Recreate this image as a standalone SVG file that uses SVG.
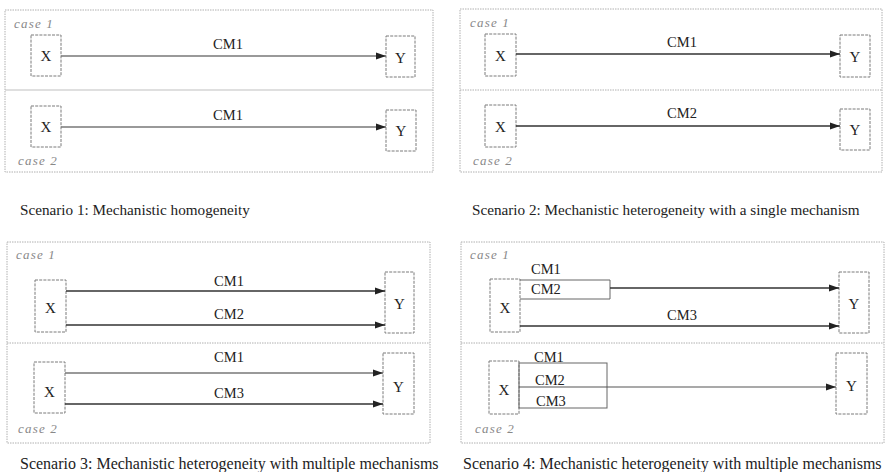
<svg xmlns="http://www.w3.org/2000/svg" width="886" height="472" viewBox="0 0 886 472">
<style>
text{font-family:"Liberation Serif","Times New Roman",Times,serif}
.panel{fill:none;stroke:#b0b0b0;stroke-width:1;stroke-dasharray:1.5 1}
.div{stroke:#b0b0b0;stroke-width:1;stroke-dasharray:1.5 1}
.div1{stroke:#c0c0c0;stroke-width:1.2}
.box{fill:#fff;stroke:#7a7a7a;stroke-width:1;stroke-dasharray:3 1.2}
.case{font-style:italic;font-size:13px;fill:#888;letter-spacing:1.2px}
.lbl{font-size:14.5px;fill:#222}
.nd{font-size:15px;fill:#222;text-anchor:middle}
.cap{font-size:16px;fill:#222}
.capt{font-size:15.2px;fill:#222}
.mid{text-anchor:middle}
.arr{fill:none;stroke:#333;stroke-width:1.4;marker-end:url(#ah)}
.arrl{fill:none;stroke:#777;stroke-width:1.4;marker-end:url(#ah)}
.brk{fill:none;stroke:#666;stroke-width:1}
</style>
<defs>
<marker id="ah" markerUnits="userSpaceOnUse" markerWidth="11" markerHeight="8" refX="10" refY="4" orient="auto">
<path d="M0,0.5 L10,4 L0,7.5 Z" fill="#222"/>
</marker>
</defs>
<rect width="886" height="472" fill="#fff"/>

<!-- Panel 1 -->
<g id="panel1">
<rect class="panel" x="5" y="10" width="428" height="162"/>
<line class="div1" x1="5" y1="90" x2="433" y2="90"/>
<text class="case" x="14" y="28">case 1</text>
<text class="case" x="18" y="165">case 2</text>
</g>
<g id="p1c1-x"><rect class="box" x="31" y="35" width="30" height="41"/><text class="nd" x="46" y="61">X</text></g>
<g id="p1c1-y"><rect class="box" x="386" y="36" width="29" height="41"/><text class="nd" x="400.5" y="63">Y</text></g>
<g id="p1c2-x"><rect class="box" x="31" y="106" width="30" height="41"/><text class="nd" x="46" y="132">X</text></g>
<g id="p1c2-y"><rect class="box" x="386" y="110" width="30" height="41"/><text class="nd" x="401" y="136">Y</text></g>

<!-- Panel 2 -->
<g id="panel2">
<rect class="panel" x="460" y="9" width="422" height="163"/>
<line class="div" x1="460" y1="90" x2="882" y2="90"/>
<text class="case" x="470" y="27">case 1</text>
<text class="case" x="473" y="165">case 2</text>
</g>
<g id="p2c1-x"><rect class="box" x="485" y="34" width="31" height="42"/><text class="nd" x="500.5" y="61">X</text></g>
<g id="p2c1-y"><rect class="box" x="840" y="35" width="30" height="42"/><text class="nd" x="855" y="62">Y</text></g>
<g id="p2c2-x"><rect class="box" x="485" y="105" width="31" height="42"/><text class="nd" x="500.5" y="132">X</text></g>
<g id="p2c2-y"><rect class="box" x="840" y="109" width="30" height="41"/><text class="nd" x="855" y="135">Y</text></g>

<!-- Panel 3 -->
<g id="panel3">
<rect class="panel" x="7" y="242" width="423" height="201"/>
<line class="div" x1="7" y1="343" x2="430" y2="343"/>
<text class="case" x="16" y="259">case 1</text>
<text class="case" x="18" y="433">case 2</text>
</g>
<g id="p3c1-x"><rect class="box" x="35" y="280" width="31" height="52"/><text class="nd" x="50.5" y="313">X</text></g>
<g id="p3c1-y"><rect class="box" x="385" y="272" width="29" height="61"/><text class="nd" x="399.5" y="309">Y</text></g>
<g id="p3c2-x"><rect class="box" x="34" y="362" width="31" height="51"/><text class="nd" x="49.5" y="397">X</text></g>
<g id="p3c2-y"><rect class="box" x="383" y="353" width="31" height="61"/><text class="nd" x="398.5" y="392">Y</text></g>

<!-- Panel 4 -->
<g id="panel4">
<rect class="panel" x="461" y="242" width="423" height="201"/>
<line class="div" x1="461" y1="343" x2="884" y2="343"/>
<text class="case" x="470" y="259">case 1</text>
<text class="case" x="475" y="433">case 2</text>
</g>
<g id="p4c1-x"><rect class="box" x="490" y="279" width="30" height="53"/><text class="nd" x="505" y="313">X</text></g>
<g id="p4c1-y"><rect class="box" x="839" y="272" width="30" height="61"/><text class="nd" x="854" y="309">Y</text></g>
<g id="p4c2-x"><rect class="box" x="489" y="361" width="30" height="53"/><text class="nd" x="504" y="395">X</text></g>
<g id="p4c2-y"><rect class="box" x="836" y="353" width="31" height="61"/><text class="nd" x="851.5" y="391">Y</text></g>

<!-- Connectors -->
<g id="connectors">
<path class="arrl" d="M61,56 H386"/>
<path class="arrl" d="M61,127 H386"/>
<path class="arr" d="M516,54 H840"/>
<path class="arr" d="M516,126 H840"/>
<path class="arr" d="M66,291 H385"/>
<path class="arr" d="M66,325 H385"/>
<path class="arrl" d="M65,373 H383"/>
<path class="arr" d="M65,404 H383"/>
<path class="brk" d="M520,280 H610 V299 H520"/>
<path class="arr" d="M610,288 H839"/>
<path class="arr" d="M520,326 H839"/>
<rect class="brk" x="519" y="363" width="88" height="45"/>
<path class="arr" d="M519,387 H836" style="stroke:#555;stroke-width:1.1"/>
<text class="lbl mid" x="228" y="49">CM1</text>
<text class="lbl mid" x="228" y="120">CM1</text>
<text class="lbl mid" x="682" y="47">CM1</text>
<text class="lbl mid" x="682" y="118">CM2</text>
<text class="lbl mid" x="229" y="286">CM1</text>
<text class="lbl mid" x="229" y="319">CM2</text>
<text class="lbl mid" x="229" y="362">CM1</text>
<text class="lbl mid" x="229" y="398">CM3</text>
<text class="lbl" x="531" y="274">CM1</text>
<text class="lbl" x="531" y="294">CM2</text>
<text class="lbl mid" x="682" y="320">CM3</text>
<text class="lbl" x="534" y="362">CM1</text>
<text class="lbl" x="535" y="385">CM2</text>
<text class="lbl" x="536" y="406">CM3</text>
</g>

<!-- Captions -->
<text class="capt" x="20" y="215">Scenario 1: Mechanistic homogeneity</text>
<text class="capt" x="472" y="215">Scenario 2: Mechanistic heterogeneity with a single mechanism</text>
<text class="cap" x="20" y="469">Scenario 3: Mechanistic heterogeneity with multiple mechanisms</text>
<text class="cap" x="463" y="469">Scenario 4: Mechanistic heterogeneity with multiple mechanisms</text>
</svg>
